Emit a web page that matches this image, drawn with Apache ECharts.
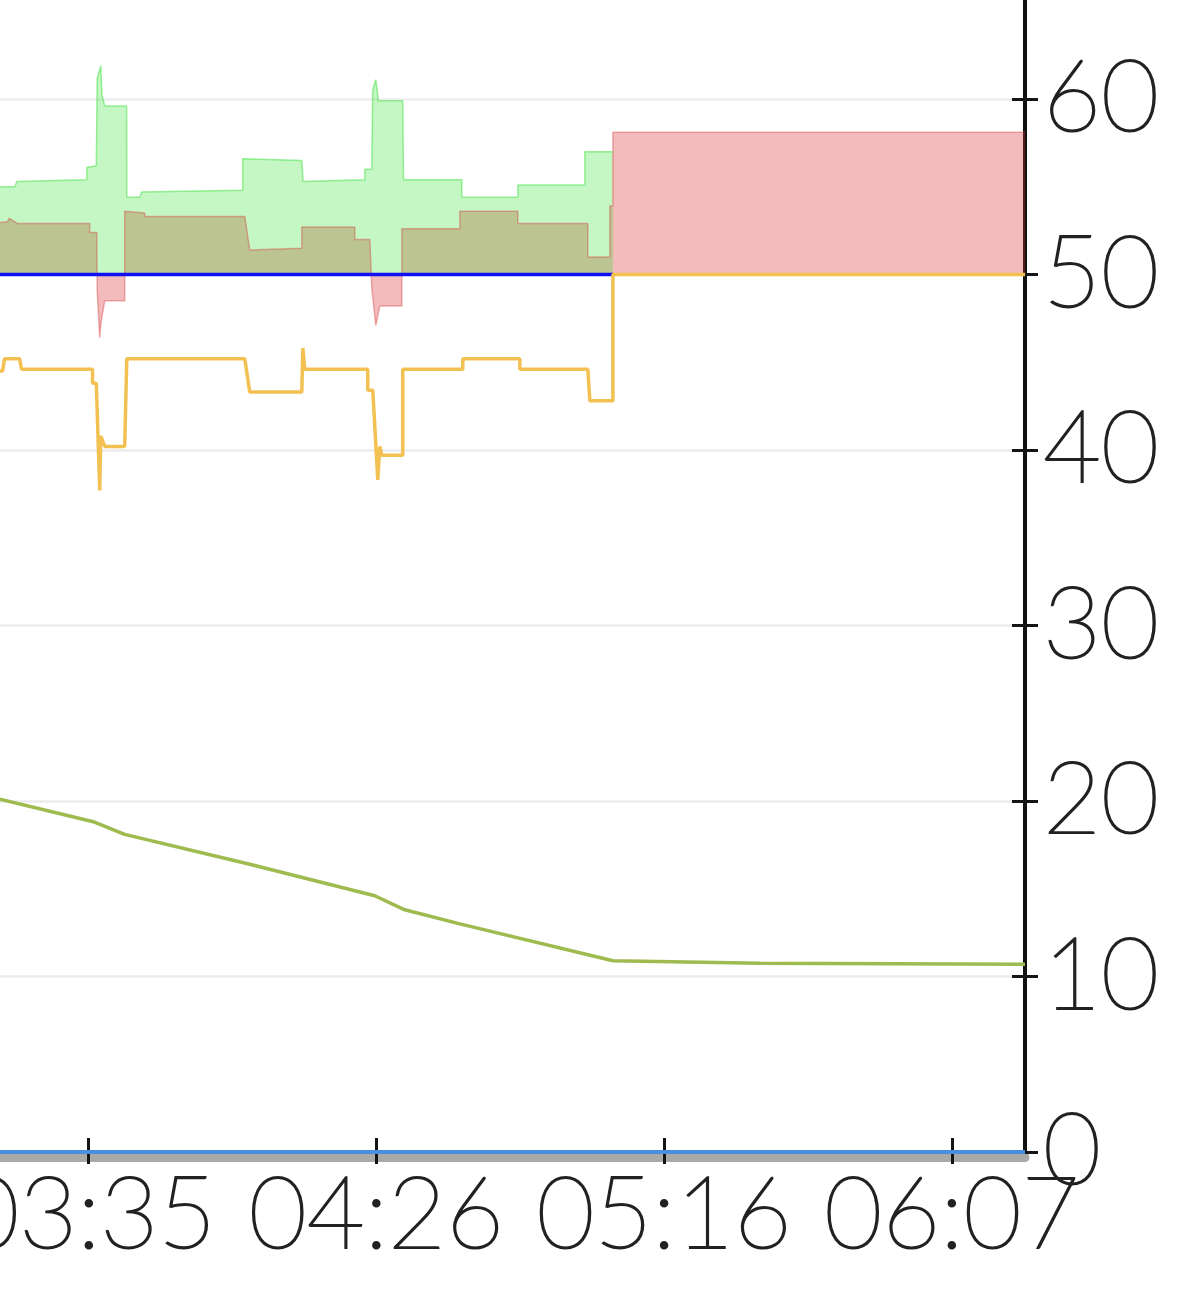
<!DOCTYPE html>
<html><head><meta charset="utf-8">
<script src="https://cdn.jsdelivr.net/npm/echarts@6/dist/echarts.min.js"></script>
<style>html,body{margin:0;padding:0;background:#fff}#c{width:1181px;height:1311px}</style>
</head><body><div id="c"></div>
<script>
// ---- axis data ----
const tickLabels = ['02:44', '03:35', '04:26', '05:16', '06:07'];
const axisStart = '02:44:40';
const axisEnd = '06:20:12';
const tickStepSec = 3040;
const yMin = 0, yMax = 70, yStep = 10;
const areaBase = 50;

// ---- series data: [time, value] ----
const greenArea = [
  ['03:17:50', 55.0], ['03:22:20', 55.0], ['03:22:40', 55.3], ['03:35:00', 55.4],
  ['03:35:00', 56.1], ['03:36:40', 56.2], ['03:36:50', 61.2], ['03:37:27', 61.9],
  ['03:37:40', 60.2], ['03:38:09', 59.6], ['03:42:00', 59.6], ['03:42:02', 54.4],
  ['03:44:19', 54.4], ['03:44:40', 54.7], ['04:02:27', 54.8], ['04:02:27', 56.6],
  ['04:12:51', 56.5], ['04:13:05', 55.3], ['04:23:57', 55.4], ['04:23:57', 56.0],
  ['04:25:11', 56.0], ['04:25:20', 60.5], ['04:25:53', 61.1], ['04:26:20', 59.9],
  ['04:30:38', 59.9], ['04:30:45', 55.4], ['04:41:02', 55.4], ['04:41:02', 54.4],
  ['04:50:54', 54.4], ['04:50:54', 55.1], ['05:02:42', 55.1], ['05:02:42', 57.0],
  ['05:07:38', 57.0]
];
const redArea = [
  ['03:17:50', 52.9], ['03:21:00', 53.0], ['03:21:20', 53.2], ['03:22:50', 52.9],
  ['03:35:30', 52.9], ['03:35:30', 52.4], ['03:36:45', 52.4], ['03:36:50', 49.0],
  ['03:37:16', 46.4], ['03:37:30', 47.3], ['03:38:09', 48.5], ['03:41:40', 48.5],
  ['03:41:40', 53.6], ['03:45:12', 53.5], ['03:45:12', 53.3], ['04:02:49', 53.3],
  ['04:03:41', 51.4], ['04:12:51', 51.5], ['04:12:51', 52.7], ['04:22:11', 52.7],
  ['04:22:11', 52.0], ['04:24:50', 52.0], ['04:25:11', 49.2], ['04:25:53', 47.1],
  ['04:26:35', 48.2], ['04:30:28', 48.2], ['04:30:28', 52.6], ['04:40:41', 52.6],
  ['04:40:41', 53.6], ['04:50:54', 53.6], ['04:50:54', 52.9], ['05:03:13', 52.9],
  ['05:03:13', 51.0], ['05:07:06', 51.0], ['05:07:06', 53.9], ['05:07:38', 53.9],
  ['05:07:38', 58.1], ['06:12:48', 58.1], ['06:20:12', 58.1]
];
const orangeLine = [
  ['03:17:50', 44.5], ['03:20:10', 44.5], ['03:20:30', 45.2], ['03:23:10', 45.2],
  ['03:23:30', 44.6], ['03:36:00', 44.6], ['03:36:00', 43.8], ['03:36:40', 43.8],
  ['03:37:16', 37.7], ['03:37:27', 40.8], ['03:38:09', 40.2], ['03:41:40', 40.2],
  ['03:42:02', 45.2], ['04:02:49', 45.2], ['04:03:41', 43.3], ['04:12:51', 43.3],
  ['04:13:02', 45.8], ['04:13:23', 44.6], ['04:24:28', 44.6], ['04:24:28', 43.4],
  ['04:25:21', 43.4], ['04:26:14', 38.3], ['04:26:35', 40.2], ['04:26:56', 39.7],
  ['04:30:38', 39.7], ['04:30:38', 44.6], ['04:41:12', 44.6], ['04:41:12', 45.2],
  ['04:51:15', 45.2], ['04:51:15', 44.6], ['05:03:13', 44.6], ['05:03:35', 42.8],
  ['05:07:38', 42.8], ['05:07:38', 50.0], ['06:20:12', 50.0]
];
const oliveLine = [
  ['03:17:50', 20.2], ['03:19:40', 20.1], ['03:36:20', 18.8], ['03:41:40', 18.1],
  ['04:03:41', 16.4], ['04:25:42', 14.6], ['04:30:59', 13.8], ['04:40:41', 13.0],
  ['05:07:38', 10.9], ['05:33:31', 10.75], ['06:20:12', 10.7]
];
const blueLine = [['03:17:50', 50], ['05:07:38', 50]];
const zeroLine = [['03:17:50', 0], ['06:20:12', 0]];

// ---- helpers ----
function toSec(s) { const p = s.split(':').map(Number); return p[0] * 3600 + p[1] * 60 + (p[2] || 0); }
const startSec = toSec(axisStart);
const xMax = toSec(axisEnd) - startSec;
const conv = arr => arr.map(d => [toSec(d[0]) - startSec, d[1]]);
const tickValues = tickLabels.map((_, i) => i * tickStepSec);
const fmtX = v => { const i = Math.round(v / tickStepSec); return (Math.abs(v - i * tickStepSec) < 1 && tickLabels[i]) ? tickLabels[i] : ''; };

const labelFont = { fontSize: 100, fontFamily: 'Lato', fontWeight: 100, color: '#222',
  textBorderColor: '#222', textBorderWidth: 2 };
const tickStyle = { color: '#151515', width: 3 };

const chart = echarts.init(document.getElementById('c'), null, { renderer: 'canvas' });
chart.setOption({
  animation: false,
  backgroundColor: '#ffffff',
  grid: { left: -199, right: 156, top: -76.5, bottom: 159, containLabel: false, outerBoundsMode: 'none' },
  xAxis: [
    { type: 'value', min: 0, max: xMax, interval: tickStepSec, position: 'bottom',
      axisLine: { show: false, onZero: false },
      axisTick: { show: true, length: 12, lineStyle: tickStyle, customValues: tickValues },
      axisLabel: Object.assign({ margin: 14, formatter: fmtX, hideOverlap: false, customValues: tickValues }, labelFont),
      splitLine: { show: false } },
    { type: 'value', min: 0, max: xMax, interval: tickStepSec, position: 'bottom',
      axisLine: { show: false, onZero: false },
      axisTick: { show: true, inside: true, length: 14, lineStyle: tickStyle, customValues: tickValues },
      axisLabel: { show: false }, splitLine: { show: false } },
    { type: 'value', min: 0, max: xMax, position: 'bottom', offset: 5.5,
      axisLine: { show: true, onZero: false, lineStyle: { color: '#a9a9a9', width: 9 } },
      axisTick: { show: false }, axisLabel: { show: false }, splitLine: { show: false } }
  ],
  yAxis: [
    { type: 'value', position: 'right', min: yMin, max: yMax, interval: yStep,
      axisLine: { show: true, onZero: false, lineStyle: { color: '#111', width: 4 } },
      axisTick: { show: true, length: 13, lineStyle: tickStyle },
      axisLabel: Object.assign({ margin: 18, hideOverlap: false }, labelFont),
      splitLine: { show: true, lineStyle: { color: '#ececec', width: 2.5 } } },
    { type: 'value', position: 'right', min: yMin, max: yMax, interval: yStep,
      axisLine: { show: false, onZero: false },
      axisTick: { show: true, inside: true, length: 13, lineStyle: tickStyle },
      axisLabel: { show: false }, splitLine: { show: false } }
  ],
  series: [
    { name: 'red', type: 'line', data: conv(redArea), showSymbol: false, symbol: 'none',
      lineStyle: { color: 'rgba(215,60,60,0.4)', width: 1.5 },
      areaStyle: { color: 'rgba(220,50,50,0.33)', opacity: 1, origin: areaBase } },
    { name: 'green', type: 'line', data: conv(greenArea), showSymbol: false, symbol: 'none',
      lineStyle: { color: 'rgba(60,225,60,0.5)', width: 1.5 },
      areaStyle: { color: 'rgba(30,225,30,0.26)', opacity: 1, origin: areaBase } },
    { name: 'blue', type: 'line', data: conv(blueLine), showSymbol: false, symbol: 'none',
      lineStyle: { color: '#1010f2', width: 3.5 } },
    { name: 'orange', type: 'line', data: conv(orangeLine), showSymbol: false, symbol: 'none',
      lineStyle: { color: '#f2c152', width: 3.5 } },
    { name: 'olive', type: 'line', data: conv(oliveLine), showSymbol: false, symbol: 'none',
      lineStyle: { color: '#9dbb4e', width: 3.5 } },
    { name: 'zero', type: 'line', data: conv(zeroLine), showSymbol: false, symbol: 'none',
      lineStyle: { color: '#4a8fdc', width: 4 } }
  ]
});
</script></body></html>
